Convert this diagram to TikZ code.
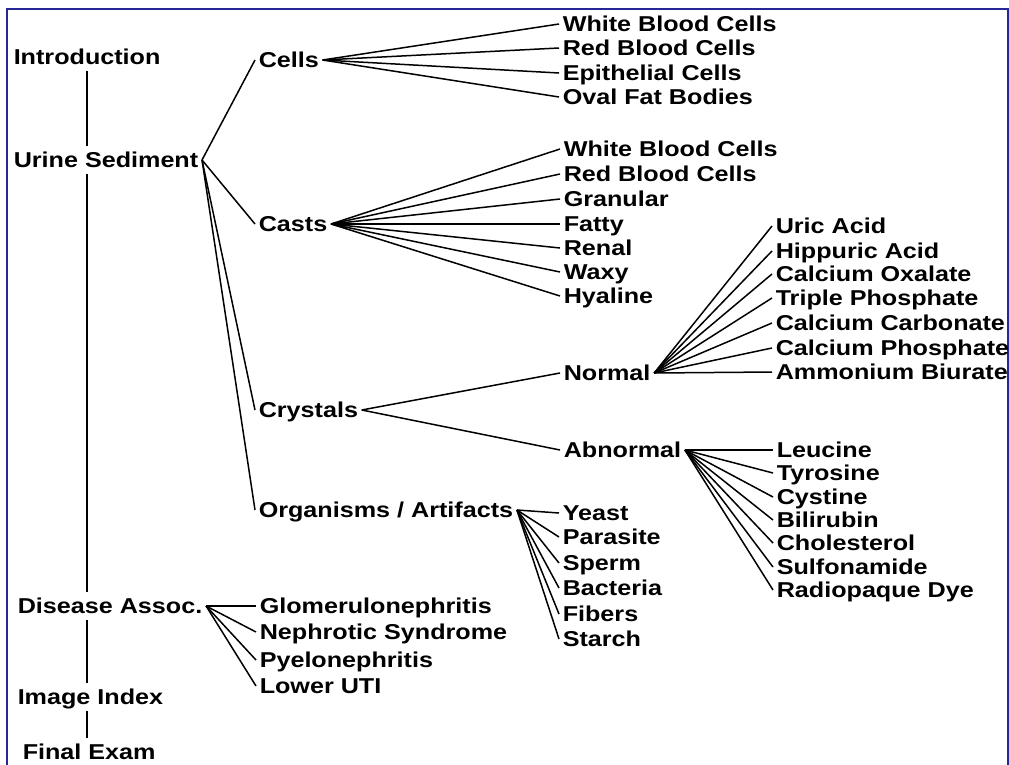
\documentclass[tikz,border=0pt]{standalone}
\usepackage{fontspec}
\setmainfont{Liberation Sans}[FakeStretch=1.17]
\definecolor{frameblue}{RGB}{38,38,150}
\begin{document}
\begin{tikzpicture}[x=1pt,y=-1pt,line width=1.5pt,
  every node/.style={font=\fontsize{21.5}{24}\selectfont\bfseries,
    inner xsep=3pt, inner ysep=0pt, text height=14.8pt, text depth=0pt},
  item/.style={anchor=west}]
\useasboundingbox (0,0) rectangle (1009,764);
\draw[line width=2pt,frameblue] (7,780) -- (7,9) -- (1008,9) -- (1008,780);

% main menu
\node[item] (intro) at (10,57) {Introduction};
\node[item] (sed) at (10,160) {Urine Sediment};
\node[item] (dis) at (14,606) {Disease Assoc.};
\node[item] (img) at (14,697) {Image Index};
\node[item] (exam) at (19,752) {Final Exam};
\coordinate (spine) at (87,0);
\foreach \a/\b in {intro/sed, sed/dis, dis/img, img/exam}
  \draw[shorten <=6pt, shorten >=6pt] (\a.south -| spine) -- (\b.north -| spine);

% sediment
\node[item] (cells) at (255,60) {Cells};
\node[item] (casts) at (255,224) {Casts};
\node[item] (cryst) at (255,410) {Crystals};
\node[item] (orgs) at (255,510) {Organisms / Artifacts};
\foreach \n in {cells, casts, cryst, orgs}
  \draw (sed.east) -- (\n.west);

\foreach \y/\t [count=\i] in {24/White Blood Cells, 48/Red Blood Cells,
    73/Epithelial Cells, 97/Oval Fat Bodies}
  {\node[item] (cell\i) at (559,\y) {\t};
   \draw (cells.east) -- (cell\i.west);};

\foreach \y/\t [count=\i] in {149/White Blood Cells, 174/Red Blood Cells,
    199/Granular, 224/Fatty, 248/Renal, 272/Waxy, 296/Hyaline}
  {\node[item] (cast\i) at (560,\y) {\t};
   \draw (casts.east) -- (cast\i.west);};

% crystals
\node[item] (norm) at (560,373) {Normal};
\node[item] (abn) at (560,450) {Abnormal};
\draw (cryst.east) -- (norm.west);
\draw (cryst.east) -- (abn.west);

\foreach \y/\t [count=\i] in {226/Uric Acid, 251/Hippuric Acid,
    274/Calcium Oxalate, 298/Triple Phosphate, 323/Calcium Carbonate,
    348/Calcium Phosphate, 372/Ammonium Biurate}
  {\node[item] (nrm\i) at (772,\y) {\t};
   \draw (norm.east) -- (nrm\i.west);};

\foreach \y/\t [count=\i] in {450/Leucine, 473/Tyrosine, 497/Cystine,
    520/Bilirubin, 543/Cholesterol, 567/Sulfonamide, 590/Radiopaque Dye}
  {\node[item] (abn\i) at (773,\y) {\t};
   \draw (abn.east) -- (abn\i.west);};

% organisms
\foreach \y/\t [count=\i] in {513/Yeast, 537/Parasite, 563/Sperm,
    588/Bacteria, 614/Fibers, 639/Starch}
  {\node[item] (org\i) at (559,\y) {\t};
   \draw (orgs.east) -- (org\i.west);};

% diseases
\foreach \y/\t [count=\i] in {606/Glomerulonephritis, 632/Nephrotic Syndrome,
    660/Pyelonephritis, 686/Lower UTI}
  {\node[item] (dz\i) at (256,\y) {\t};
   \draw (dis.east) -- (dz\i.west);};
\end{tikzpicture}
\end{document}
